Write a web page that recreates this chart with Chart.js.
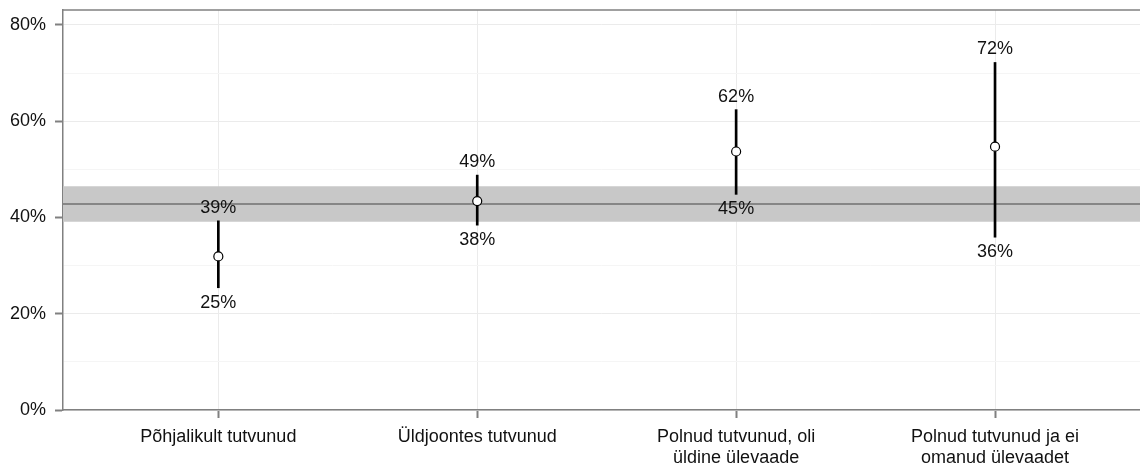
<!DOCTYPE html>
<html>
<head>
<meta charset="utf-8">
<script src="https://cdn.jsdelivr.net/npm/chart.js@4"></script>
<style>
  body { margin: 0; background: #fff; }
  #wrap { width: 1140px; height: 464px; }
</style>
</head>
<body>
<div id="wrap"><canvas id="myChart"></canvas></div>
<script>
const categories = [
  ["Põhjalikult tutvunud"],
  ["Üldjoontes tutvunud"],
  ["Polnud tutvunud, oli", "üldine ülevaade"],
  ["Polnud tutvunud ja ei", "omanud ülevaadet"],
];
const catPos = [1, 2, 3, 4];
const pointValues = [31.9, 43.4, 53.7, 54.7];
const lowValues = [25.4, 38.4, 44.8, 35.9];
const highValues = [39.3, 48.8, 62.4, 72.2];
const refLine = 42.8;
const refLow = 39.1;
const refHigh = 46.5;
const yTicks = [0, 10, 20, 30, 40, 50, 60, 70, 80];

const xMin = 0.4, xMax = 4.56;
const FONT = "'Liberation Sans', Arial, sans-serif";
const axisGrey = "#808080";

const ctx = document.getElementById("myChart");

// labels above and below each whisker
const whiskerLabels = {
  id: "whiskerLabels",
  afterDatasetsDraw(chart) {
    const c = chart.ctx;
    const y = chart.scales.y, x = chart.scales.x;
    c.save();
    c.font = "18px " + FONT;
    c.fillStyle = "#111";
    c.textAlign = "center";
    c.textBaseline = "middle";
    for (let i = 0; i < catPos.length; i++) {
      const px = x.getPixelForValue(catPos[i]);
      c.fillText(Math.round(highValues[i]) + "%", px, y.getPixelForValue(highValues[i]) - 13);
      c.fillText(Math.round(lowValues[i]) + "%", px, y.getPixelForValue(lowValues[i]) + 15);
    }
    c.restore();
  },
};

// top frame line
const topFrame = {
  id: "topFrame",
  beforeDatasetsDraw(chart) {
    const a = chart.chartArea, c = chart.ctx;
    c.save();
    c.strokeStyle = axisGrey;
    c.lineWidth = 1.5;
    c.beginPath();
    c.moveTo(a.left, a.top);
    c.lineTo(a.right, a.top);
    c.stroke();
    c.restore();
  },
};

new Chart(ctx, {
  type: "line",
  data: {
    datasets: [
      {
        label: "punkt",
        data: catPos.map((v, i) => ({ x: v, y: pointValues[i] })),
        showLine: false,
        pointRadius: 4.5,
        pointBackgroundColor: "#ffffff",
        pointBorderColor: "#000000",
        pointBorderWidth: 1.2,
      },
      {
        type: "bar",
        label: "vahemik",
        data: catPos.map((v, i) => ({ x: v, y: [lowValues[i], highValues[i]] })),
        backgroundColor: "#000000",
        barThickness: 2,
        grouped: false,
      },
      {
        label: "keskmine",
        data: [{ x: xMin, y: refLine }, { x: xMax, y: refLine }],
        borderColor: "#707070",
        borderWidth: 1.5,
        pointRadius: 0,
      },
      {
        label: "vahemik keskmine",
        data: [{ x: xMin, y: refLow }, { x: xMax, y: refLow }],
        borderColor: "rgba(0,0,0,0)",
        borderWidth: 0,
        pointRadius: 0,
        fill: { value: refHigh },
        backgroundColor: "#c8c8c8",
      },
    ],
  },
  plugins: [topFrame, whiskerLabels],
  options: {
    responsive: true,
    maintainAspectRatio: false,
    animation: false,
    layout: { autoPadding: false, padding: { top: 10, right: 0, left: 0, bottom: 0 } },
    plugins: {
      legend: { display: false },
      tooltip: { enabled: false },
    },
    scales: {
      x: {
        type: "linear",
        min: xMin,
        max: xMax,
        offset: false,
        afterBuildTicks: (s) => { s.ticks = catPos.map((v) => ({ value: v })); },
        afterFit: (s) => { s.height = 54; s.paddingLeft = 0; s.paddingRight = 0; },
        ticks: {
          callback: (v) => categories[catPos.indexOf(v)] || "",
          font: { family: FONT, size: 18 },
          color: "#111",
          padding: 8,
          maxRotation: 0,
          autoSkip: false,
        },
        grid: {
          offset: false,
          color: "#ebebeb",
          lineWidth: 1,
          tickLength: 8,
          tickColor: axisGrey,
          tickWidth: 2,
        },
        border: { color: axisGrey, width: 1.5 },
      },
      y: {
        min: 0,
        max: 83.1,
        afterBuildTicks: (s) => { s.ticks = yTicks.map((v) => ({ value: v })); },
        afterFit: (s) => { s.width = 63; s.paddingTop = 0; s.paddingBottom = 0; },
        ticks: {
          callback: (v) => (v % 20 === 0 ? v + "%" : ""),
          font: { family: FONT, size: 18 },
          color: "#111",
          padding: 9,
        },
        grid: {
          color: (c) => (c.tick && c.tick.value % 20 === 0 ? "#ebebeb" : "#f5f5f5"),
          lineWidth: 1,
          tickLength: 8,
          tickColor: (c) => (c.tick && c.tick.value % 20 === 0 ? axisGrey : "rgba(0,0,0,0)"),
          tickWidth: 2,
        },
        border: { color: axisGrey, width: 1.5 },
      },
    },
  },
});
</script>
</body>
</html>
